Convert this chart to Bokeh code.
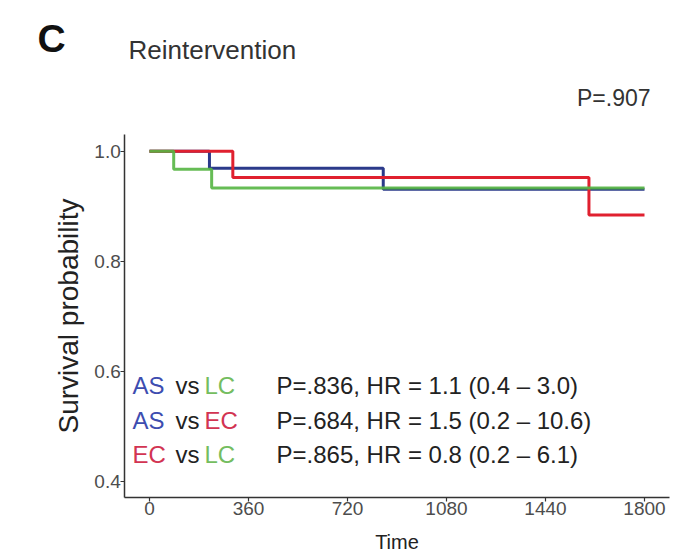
from bokeh.plotting import figure
from bokeh.models import Range1d, Label, FixedTicker
from bokeh.embed import file_html
from bokeh.resources import INLINE

# ---- data ----
times_AS = [0, 218, 850, 1800]
surv_AS = [1.0, 0.969, 0.931, 0.931]
times_EC = [0, 303, 1598, 1800]
surv_EC = [1.0, 0.952, 0.884, 0.884]
times_LC = [0, 88, 226, 1800]
surv_LC = [1.0, 0.967, 0.933, 0.933]

x_ticks = [0, 360, 720, 1080, 1440, 1800]
y_ticks = [0.4, 0.6, 0.8, 1.0]
x_limits = (-90, 1890)
y_limits = (0.37, 1.03)

cmp_first = ["AS", "AS", "EC"]
cmp_second = ["LC", "EC", "LC"]
cmp_stats = ["P=.836, HR = 1.1 (0.4 \u2013 3.0)",
             "P=.684, HR = 1.5 (0.2 \u2013 10.6)",
             "P=.865, HR = 0.8 (0.2 \u2013 6.1)"]
overall_p = "P=.907"
panel_letter = "C"
title_text = "Reintervention"

# ---- style ----
FONT = "Liberation Sans"
BLUE_LINE = "#2b3a8a"
RED_LINE = "#e0202f"
GREEN_LINE = "#55b543"
BLUE_TXT = "#3d4db0"
RED_TXT = "#d23452"
GREEN_TXT = "#74bd5f"
col_txt = {"AS": BLUE_TXT, "EC": RED_TXT, "LC": GREEN_TXT}

W, H = 679, 554
# panel geometry: where the data window sits on the page (pixels)
X0_PX, PX_PER_DAY = 149.0, 0.275
Y1_PX, PX_PER_UNIT = 150.7, 550.0


def dx(px):
    return (px - X0_PX) / PX_PER_DAY


def dy(py):
    return 1.0 - (py - Y1_PX) / PX_PER_UNIT


p = figure(width=W, height=H, output_backend="svg", toolbar_location=None,
           x_range=Range1d(dx(0), dx(W)), y_range=Range1d(dy(H), dy(0)),
           min_border=0)
p.outline_line_color = None
p.xgrid.visible = False
p.ygrid.visible = False

for ax in (p.xaxis[0], p.yaxis[0]):
    ax.axis_line_color = "#333333"
    ax.axis_line_width = 1.5
    ax.major_tick_line_color = "#333333"
    ax.major_tick_line_width = 1.2
    ax.major_tick_out = 4
    ax.major_tick_in = 0
    ax.minor_tick_line_color = None
    ax.major_label_text_font = FONT
    ax.major_label_text_font_size = "19px"
    ax.major_label_text_color = "#4d4d4d"
    ax.axis_label_text_font = FONT
    ax.axis_label_text_font_style = "normal"
    ax.axis_label_text_color = "#222222"

xa = p.xaxis[0]
ya = p.yaxis[0]
xa.fixed_location = y_limits[0]
xa.bounds = x_limits
ya.fixed_location = x_limits[0]
ya.bounds = y_limits
xa.ticker = FixedTicker(ticks=x_ticks)
ya.ticker = FixedTicker(ticks=y_ticks)
ya.major_label_overrides = {v: f"{v:.1f}" for v in y_ticks}
xa.axis_label = "Time"
xa.axis_label_text_font_size = "20px"
xa.axis_label_standoff = 13
xa.major_label_standoff = 0
ya.axis_label = "Survival probability"
ya.axis_label_text_font_size = "28px"
ya.axis_label_standoff = 7
ya.major_label_standoff = 0

p.step(times_AS, surv_AS, mode="after", line_color=BLUE_LINE, line_width=3)
p.step(times_EC, surv_EC, mode="after", line_color=RED_LINE, line_width=3)
p.step(times_LC, surv_LC, mode="after", line_color=GREEN_LINE, line_width=3, line_alpha=0.9)


def lab(text, px, py, size, color="#222222", align="left", style="normal"):
    p.add_layout(Label(x=dx(px), y=dy(py), text=text, text_font=FONT,
                       text_font_size=size, text_color=color, text_align=align,
                       text_baseline="middle", text_font_style=style))


lab(panel_letter, 37, 38, "39px", "#111111", style="bold")
lab(title_text, 128, 49, "26px", "#333333")
lab(overall_p, 650, 97, "23px", "#333333", align="right")

rows = [385, 420, 454]
for a, b, s, y in zip(cmp_first, cmp_second, cmp_stats, rows):
    lab(a, 132, y, "24px", col_txt[a])
    lab("vs", 175, y, "24px", "#222222")
    lab(b, 204, y, "24px", col_txt[b])
    lab(s, 276, y, "24px", "#222222")

open("out.html", "w").write(file_html(p, INLINE))
